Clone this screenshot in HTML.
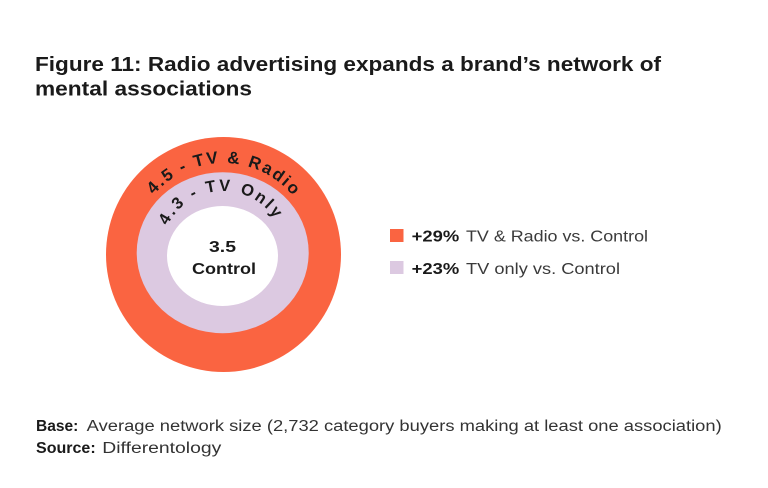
<!DOCTYPE html>
<html>
<head>
<meta charset="utf-8">
<style>
  html, body { margin: 0; padding: 0; background: #ffffff; }
  body { width: 768px; height: 488px; overflow: hidden; }
  svg { display: block; }
  text { font-family: "Liberation Sans", "DejaVu Sans", sans-serif; }
</style>
</head>
<body>
<svg width="768" height="488" viewBox="0 0 768 488" xmlns="http://www.w3.org/2000/svg">
  <rect x="0" y="0" width="768" height="488" fill="#ffffff"/>

  <!-- Title -->
  <text x="35" y="71" font-size="20" font-weight="bold" fill="#1a1a1a" textLength="626" lengthAdjust="spacingAndGlyphs">Figure 11: Radio advertising expands a brand’s network of</text>
  <text x="35" y="95.5" font-size="20" font-weight="bold" fill="#1a1a1a" textLength="217" lengthAdjust="spacingAndGlyphs">mental associations</text>

  <!-- Rings -->
  <circle cx="223.5" cy="254.5" r="117.5" fill="#FA6441"/>
  <ellipse cx="222.7" cy="252.7" rx="86" ry="80.5" fill="#DCC9E1"/>
  <ellipse cx="222.5" cy="256" rx="55.5" ry="50" fill="#ffffff"/>

  <defs>
    <path id="arcOuter" d="M153.8,194.9 A91,91 0 0 1 293.7,196.7"/>
    <path id="arcInner" d="M167.3,225.8 A62,62 0 0 1 275.6,220.1"/>
  </defs>

  <text font-size="17" font-weight="bold" fill="#1a1a1a">
    <textPath href="#arcOuter" startOffset="0" textLength="158" lengthAdjust="spacing">4.5 - TV &amp; Radio</textPath>
  </text>
  <text font-size="16.5" font-weight="bold" fill="#1a1a1a">
    <textPath href="#arcInner" startOffset="0" textLength="130" lengthAdjust="spacing">4.3 - TV Only</textPath>
  </text>

  <!-- Center label -->
  <text x="222.5" y="252" font-size="16" font-weight="bold" fill="#1a1a1a" text-anchor="middle" textLength="27" lengthAdjust="spacingAndGlyphs">3.5</text>
  <text x="224" y="274" font-size="16" font-weight="bold" fill="#1a1a1a" text-anchor="middle" textLength="64" lengthAdjust="spacingAndGlyphs">Control</text>

  <!-- Legend -->
  <rect x="390" y="229" width="13.5" height="13" fill="#FA6441"/>
  <text x="411.7" y="241.5" font-size="16" font-weight="bold" fill="#1a1a1a" textLength="47.6" lengthAdjust="spacingAndGlyphs">+29%</text>
  <text x="466" y="241.5" font-size="16" fill="#3a3a3a" textLength="182" lengthAdjust="spacingAndGlyphs">TV &amp; Radio vs. Control</text>

  <rect x="390" y="261" width="13.5" height="13" fill="#DCC9E1"/>
  <text x="411.7" y="274" font-size="16" font-weight="bold" fill="#1a1a1a" textLength="47.6" lengthAdjust="spacingAndGlyphs">+23%</text>
  <text x="466" y="274" font-size="16" fill="#3a3a3a" textLength="154" lengthAdjust="spacingAndGlyphs">TV only vs. Control</text>

  <!-- Footer -->
  <text x="36" y="431" font-size="15.5" font-weight="bold" fill="#1a1a1a" textLength="42.3" lengthAdjust="spacingAndGlyphs">Base:</text>
  <text x="86.7" y="431" font-size="15.5" fill="#333333" textLength="635" lengthAdjust="spacingAndGlyphs">Average network size (2,732 category buyers making at least one association)</text>
  <text x="36" y="453" font-size="15.5" font-weight="bold" fill="#1a1a1a" textLength="59.7" lengthAdjust="spacingAndGlyphs">Source:</text>
  <text x="102.3" y="453" font-size="15.5" fill="#333333" textLength="119" lengthAdjust="spacingAndGlyphs">Differentology</text>
</svg>
</body>
</html>
